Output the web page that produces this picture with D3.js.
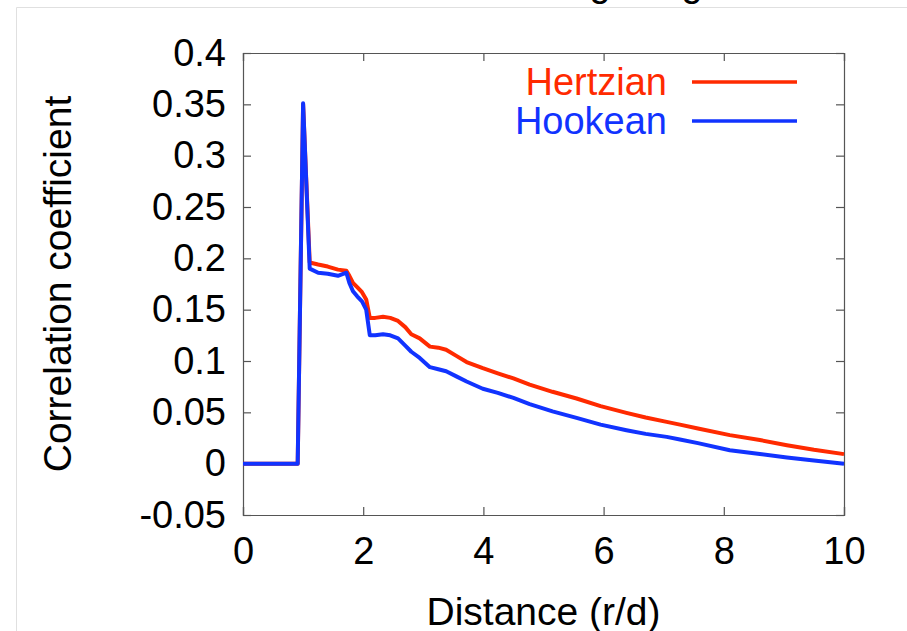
<!DOCTYPE html>
<html>
<head>
<meta charset="utf-8">
<script src="https://cdn.jsdelivr.net/npm/d3@7"></script>
<style>
  body { margin: 0; background: #fff; }
  text { font-family: "Liberation Sans", Arial, sans-serif; }
</style>
</head>
<body>
<div id="plot"></div>
<script>
// Data
var distance = [0, 0.9, 0.91, 1.0, 1.11, 1.25, 1.41, 1.58, 1.72, 1.77, 1.83, 1.9, 1.98, 2.05, 2.11, 2.2, 2.33, 2.45, 2.58, 2.7, 2.8, 2.94,
    3.11, 3.25, 3.38, 3.55, 3.72, 3.99, 4.24, 4.5, 4.77, 5.15, 5.55, 5.95, 6.38, 6.7, 7.05, 7.27, 7.57, 8.1, 8.6, 9.05, 9.5, 10];
var hertzian = [0, 0, 0, 0.35, 0.196, 0.194, 0.192, 0.189, 0.188, 0.183, 0.176, 0.172, 0.167, 0.16, 0.142, 0.142, 0.143, 0.142, 0.139, 0.133, 0.126, 0.122,
    0.114, 0.113, 0.111, 0.105, 0.099, 0.093, 0.088, 0.083, 0.077, 0.07, 0.0635, 0.056, 0.0495, 0.045, 0.0407, 0.038, 0.0343, 0.0278, 0.023, 0.018, 0.0135, 0.0093];
var hookean = [0, 0, 0, 0.351, 0.19, 0.186, 0.185, 0.183, 0.186, 0.176, 0.168, 0.163, 0.158, 0.15, 0.125, 0.125, 0.126, 0.125, 0.122, 0.115, 0.109, 0.103,
    0.094, 0.092, 0.09, 0.085, 0.08, 0.073, 0.069, 0.064, 0.058, 0.051, 0.0446, 0.038, 0.0326, 0.029, 0.0261, 0.0236, 0.02, 0.0131, 0.0095, 0.006, 0.003, 0];
var xTicks = [0, 2, 4, 6, 8, 10];
var yTicks = [-0.05, 0, 0.05, 0.1, 0.15, 0.2, 0.25, 0.3, 0.35, 0.4];
var seriesNames = ["Hertzian", "Hookean"];
var seriesColors = ["#ff2a00", "#1133ff"];

var svgWidth = 907;
var svgHeight = 631;
var margin = { top: 53, right: 63, bottom: 116, left: 243 };
var width = svgWidth - margin.left - margin.right;
var height = svgHeight - margin.top - margin.bottom;

var svg = d3.select("#plot").append("svg")
    .attr("width", svgWidth)
    .attr("height", svgHeight);

// faint page border and cut-off title above
svg.append("path")
    .attr("d", "M16.5,631 V7.5 H907")
    .attr("fill", "none")
    .attr("stroke", "#e0e0e0");
svg.append("text").attr("x", 600).attr("y", -4).attr("font-size", 38).attr("text-anchor", "middle").text("g");
svg.append("text").attr("x", 692).attr("y", -4).attr("font-size", 38).attr("text-anchor", "middle").text("g");

var chartGroup = svg.append("g")
    .attr("transform", `translate(${margin.left}, ${margin.top})`);

var x = d3.scaleLinear().domain([0, 10]).range([0, width]);
var y = d3.scaleLinear().domain([-0.05, 0.4]).range([height, 0]);

var fmt = function(d) { return String(+d.toFixed(2)); };

// axes with inward ticks on all four sides
var bottomAxis = chartGroup.append("g")
    .attr("transform", `translate(0, ${height})`)
    .call(d3.axisBottom(x).tickValues(xTicks).tickSize(-8).tickPadding(22).tickFormat(fmt));
var topAxis = chartGroup.append("g")
    .call(d3.axisTop(x).tickValues(xTicks).tickSize(-8).tickFormat(""));
var leftAxis = chartGroup.append("g")
    .call(d3.axisLeft(y).tickValues(yTicks).tickSize(-8).tickPadding(17).tickFormat(fmt));
var rightAxis = chartGroup.append("g")
    .attr("transform", `translate(${width}, 0)`)
    .call(d3.axisRight(y).tickValues(yTicks).tickSize(-8).tickFormat(""));

chartGroup.selectAll(".domain, .tick line")
    .attr("stroke", "#555")
    .attr("stroke-width", 1.2);
chartGroup.selectAll(".tick text")
    .attr("fill", "#000")
    .attr("font-size", 38)
    .attr("font-family", "Liberation Sans, Arial, sans-serif");

// axis titles
chartGroup.append("text")
    .attr("transform", "rotate(-90)")
    .attr("x", 0 - (y(0.175)))
    .attr("y", -172)
    .attr("text-anchor", "middle")
    .attr("font-size", 39)
    .text("Correlation coefficient");

chartGroup.append("text")
    .attr("x", width / 2)
    .attr("y", height + 110)
    .attr("text-anchor", "middle")
    .attr("font-size", 39)
    .text("Distance (r/d)");

// lines
var series = [hertzian, hookean];
var line = d3.line()
    .x(function(d, i) { return x(distance[i]); })
    .y(function(d) { return y(d); });

series.forEach(function(values, k) {
    chartGroup.append("path")
        .datum(values)
        .attr("fill", "none")
        .attr("stroke", seriesColors[k])
        .attr("stroke-width", 4)
        .attr("stroke-linejoin", "round")
        .attr("d", line);
});

// legend
var legend = chartGroup.append("g")
    .attr("transform", "translate(424, 29)");
seriesNames.forEach(function(name, k) {
    legend.append("text")
        .attr("x", 0)
        .attr("y", k * 39 + 13)
        .attr("text-anchor", "end")
        .attr("font-size", 38)
        .attr("fill", seriesColors[k])
        .text(name);
    legend.append("line")
        .attr("x1", 25).attr("x2", 130)
        .attr("y1", k * 39).attr("y2", k * 39)
        .attr("stroke", seriesColors[k])
        .attr("stroke-width", 3.5);
});
</script>
</body>
</html>
